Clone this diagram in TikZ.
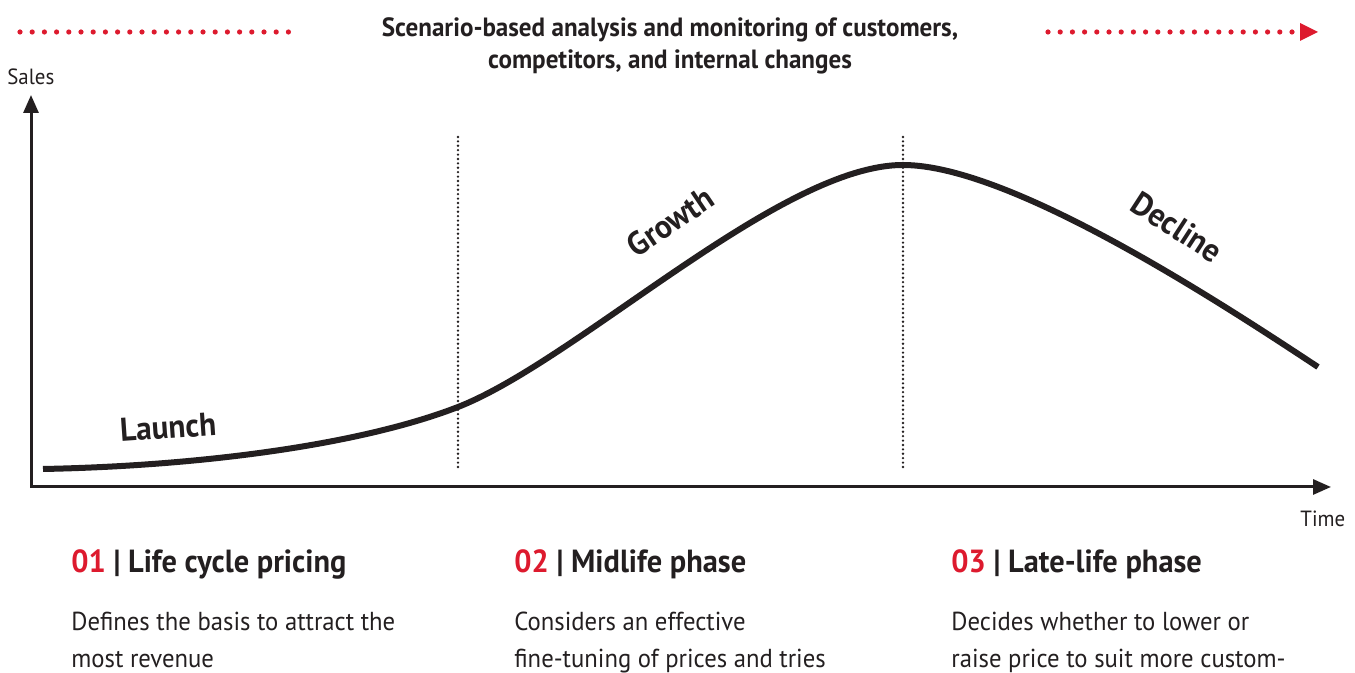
\documentclass[tikz,border=0pt]{standalone}
\usepackage{fontspec}
\setmainfont[FakeStretch=0.95]{PT Sans}
\usetikzlibrary{arrows.meta,positioning}
\definecolor{redmark}{HTML}{DD1A2E}
\definecolor{inkdark}{HTML}{231F20}
\begin{document}
\begin{tikzpicture}[x=0.5pt,y=0.5pt,
  axis/.style={line width=1.5pt,inkdark,{Triangle[length=9pt,width=7.5pt]}-{Triangle[length=9pt,width=7.5pt]}},
  guide/.style={line width=1.3pt,inkdark,dash pattern=on 0pt off 2.2pt,line cap=round},
  reddots/.style={redmark,line width=2.6pt,dash pattern=on 0pt off 6.1pt,line cap=round},
  phase/.style={font=\bfseries\fontsize{16.5}{19}\selectfont,text=inkdark},
  heading/.style={anchor=base west,inner sep=0pt,font=\bfseries\fontsize{16}{19}\selectfont,text=inkdark},
  body/.style={anchor=base west,inner sep=0pt,align=left,font=\fontsize{13}{18.5}\selectfont,text=inkdark}]
\useasboundingbox (0,0) rectangle (1355,673);
\clip (0,0) rectangle (1355,673);

% dotted red timeline
\coordinate (redL1) at (20,641);
\coordinate (redL2) at (289,641);
\coordinate (redR1) at (1048,641);
\coordinate (redR2) at (1318,641);
\draw [reddots] (redL1) -- (redL2);
\draw [reddots,-{Triangle[length=9pt,width=9pt,line width=0pt]}] (redR1) -- (redR2);
\node (title) [align=center,inner sep=0pt,font=\bfseries\fontsize{13.2}{16}\selectfont,text=inkdark]
  at (670,627) {Scenario-based analysis and monitoring of customers,\\competitors, and internal changes};

% axes
\coordinate (ytop) at (31,578);
\coordinate (origin) at (31,186);
\coordinate (xend) at (1331,186);
\draw [axis] (ytop) |- (xend);
\node (sales) [anchor=base west,inner sep=0pt,font=\fontsize{11}{13}\selectfont,text=inkdark] at (7,588) {Sales};
\node (time) [anchor=base west,inner sep=0pt,font=\fontsize{11}{13}\selectfont,text=inkdark] at (1300,146) {Time};

% phase borders
\coordinate (mid1top) at (458,536);
\coordinate (mid1bot) at (458,203);
\coordinate (mid2top) at (903,536);
\coordinate (mid2bot) at (903,203);
\draw [guide] (mid1top) -- (mid1bot);
\draw [guide] (mid2top) -- (mid2bot);

% life cycle curve
\coordinate (start) at (43,204);
\coordinate (knee) at (458,266);
\coordinate (peak) at (903,508);
\coordinate (tail) at (1318,306);
\draw [line width=3pt,inkdark] (start) .. controls (200,207) and (360,228) .. (knee)
  .. controls (578,313) and (780,508) .. (peak)
  .. controls (1010,508) and (1218,372) .. (tail);
\node (launch) [phase,rotate=4] at (168,246) {Launch};
\node (growth) [phase,rotate=34] at (670,451) {Growth};
\node (decline) [phase,rotate=-33] at (1177,446) {Decline};

% phase descriptions
\node (head1) [heading] at (71,100) {\textcolor{redmark}{01} | Life cycle pricing};
\node (head2) [heading] at (514,100) {\textcolor{redmark}{02} | Midlife phase};
\node (head3) [heading] at (951,100) {\textcolor{redmark}{03} | Late-life phase};
\node (text1) [body] at (71,5) {Defines the basis to attract the\\most revenue};
\node (text2) [body] at (514,5) {Considers an effective\\fine-tuning of prices and tries};
\node (text3) [body] at (951,5) {Decides whether to lower or\\raise price to suit more custom-};
\end{tikzpicture}
\end{document}
